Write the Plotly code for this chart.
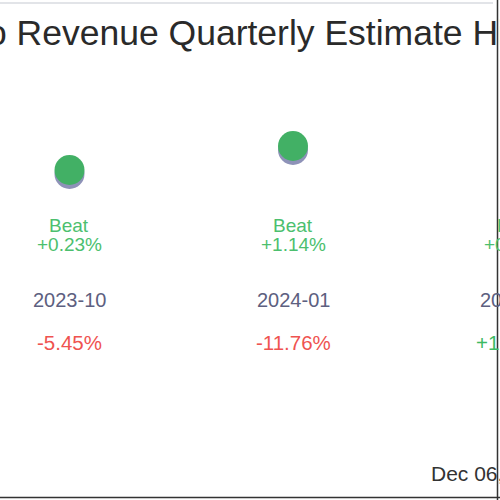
import plotly.graph_objects as go

quarters = ["2023-10", "2024-01", "2024-04"]
estimate = [2.380, 2.500, 2.450]
actual = [2.400, 2.520, 2.470]
surprise_word = ["Beat", "Beat", "Beat"]
surprise_pct = ["+0.23%", "+1.14%", "+0.80%"]
yoy_change = ["-5.45%", "-11.76%", "+12.40%"]
yoy_color = ["#ef5350", "#ef5350", "#3dba63"]
title_text = "o Revenue Quarterly Estimate History"
stamp_text = "Dec 06, 2024"

xpos = list(range(len(quarters)))
W = H = 500
X0_PX = 69.5
STEP_PX = 223.5
X_RANGE = [-X0_PX / STEP_PX, (W - X0_PX) / STEP_PX]

fig = go.Figure()
fig.add_trace(go.Scatter(
    x=xpos, y=estimate, mode="markers",
    marker=dict(size=30, color="#8e92b8", line=dict(width=0)),
    hoverinfo="skip", showlegend=False))
fig.add_trace(go.Scatter(
    x=xpos, y=actual, mode="markers",
    marker=dict(size=30, color="#42b065", line=dict(width=0)),
    hoverinfo="skip", showlegend=False))

font_family = "Liberation Sans, Arial, sans-serif"


def py(px):
    return 1 - px / H


def col_paper(i):
    # position of column i in paper units (the last column lies past the edge)
    return (i - X_RANGE[0]) / (X_RANGE[1] - X_RANGE[0])


def text_row(labels, px, size, colors):
    for i in xpos:
        c = colors[i] if isinstance(colors, list) else colors
        fig.add_annotation(x=col_paper(i), y=py(px), xref="paper", yref="paper",
                           text=labels[i], showarrow=False,
                           xanchor="center", yanchor="middle",
                           font=dict(family=font_family, size=size, color=c))


text_row(surprise_word, 226, 19, "#4cbf6e")
text_row(surprise_pct, 244, 19, "#4cbf6e")
text_row(quarters, 300, 20, "#5d6080")
text_row(yoy_change, 342, 20.5, yoy_color)

fig.add_annotation(x=-15.5 / W, y=py(33), xref="paper", yref="paper",
                   text=title_text, showarrow=False, xanchor="left", yanchor="middle",
                   font=dict(family=font_family, size=35.5, color="#2a2a2a"))
fig.add_annotation(x=429 / W, y=py(473), xref="paper", yref="paper",
                   text=stamp_text, showarrow=False, xanchor="left", yanchor="middle",
                   font=dict(family=font_family, size=21, color="#333333"))

fig.add_shape(type="line", xref="paper", yref="paper",
              x0=0, x1=493 / W, y0=py(3), y1=py(3),
              line=dict(color="#e2e4e8", width=2))
fig.add_shape(type="line", xref="paper", yref="paper",
              x0=497.5 / W, x1=497.5 / W, y0=0, y1=1,
              line=dict(color="#333333", width=1.5))
fig.add_shape(type="line", xref="paper", yref="paper",
              x0=0, x1=1, y0=py(497.5), y1=py(497.5),
              line=dict(color="#333333", width=1.5))

fig.update_xaxes(range=X_RANGE, visible=False)
fig.update_yaxes(range=[0.75, 3.25], visible=False)
fig.update_layout(width=W, height=H, margin=dict(l=0, r=0, t=0, b=0),
                  paper_bgcolor="white", plot_bgcolor="white")

fig.write_html("out.html", config={"displayModeBar": False},
               post_script="document.body.style.margin='0';")
